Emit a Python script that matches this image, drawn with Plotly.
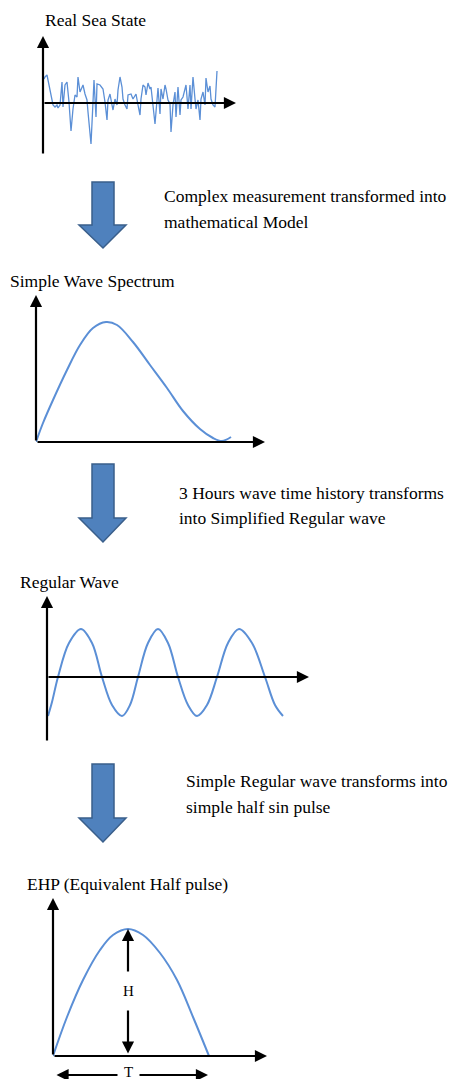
import plotly.graph_objects as go

W, H = 455, 1079

# Real sea state: irregular elevation record (time, elevation)
sea_t = [1, 2, 4, 7, 10, 12, 14, 15, 17, 19, 20, 22, 24, 26, 28, 30, 32, 34, 35, 37,
         39, 40, 42, 44, 45, 48, 50, 51, 53, 54, 57, 60, 62, 64, 65, 67, 69, 70, 72, 74,
         75, 77, 79, 80, 82, 84, 85, 88, 90, 92, 93, 95, 97, 98, 100, 102, 103, 105, 107, 108,
         110, 112, 113, 115, 117, 118, 120, 122, 123, 125, 127, 128, 130, 132, 133, 135, 137, 138, 140, 142,
         143, 145, 147, 148, 150, 152, 153, 155, 157, 158, 160, 162, 163, 165, 167, 168, 170, 172, 174]
sea_v = [24, 26, 28, 12, -2, -4, -2, -5, -2, 21, -4, 18, 21, 1, -28, -6, 8, 6, 26, 11,
         16, 18, 9, 3, -9, -41, 1, 23, -14, 19, 18, 14, 1, -17, 3, 9, -2, -7, 4, -2,
         13, 26, 16, 4, -2, -6, 8, 9, 4, 8, 9, -2, -12, 4, 18, 16, 8, 20, 14, 16,
         -2, -21, -9, 15, -11, 14, 4, 18, 14, 3, -1, -29, -2, 11, -14, 16, -12, 3, 6, 14,
         18, -6, 18, -6, 26, 4, -6, 3, -17, 4, 11, -2, 25, 11, 17, 4, -2, -4, 32]

# Simple wave spectrum (frequency, spectral density)
spec_f = [0, 7, 17, 31, 44, 57, 70, 81, 97, 114, 131, 147, 164, 177, 186, 195]
spec_s = [0, 19, 42, 72, 97, 114, 120, 117, 100, 77, 54, 31, 13, 4, 1, 5]

# Regular wave (time, elevation)
reg_t = [1, 5, 11, 22, 34, 45, 55, 65, 75, 83, 91, 101, 111, 121, 131, 141, 150, 160, 170,
         181, 192, 205, 218, 228, 236]
reg_h = [-39, -25, 0, 34, 48, 34, 0, -28, -39, -28, 0, 34, 48, 34, 0, -28, -39, -28, 0,
         34, 48, 34, 0, -28, -39]

# Equivalent half pulse (time, elevation)
ehp_t = [0, 14, 30, 47, 60, 75, 90, 107, 124, 140, 156]
ehp_h = [0, 39, 76, 106, 121, 127, 121, 103, 76, 39, 0]
ehp_peak_t, ehp_peak_h = 75, 127

curve_color = "#5B8FD6"
font = "Liberation Serif"

# panel boxes in page pixels: (left, right, top, bottom)
panels = [
    (43, 236, 36, 155),
    (36, 265, 295, 442),
    (47, 309, 596, 742),
    (53, 267, 898, 1079),
]
# origin (page pixels) of each panel's data axes
origins = [(43, 103), (36, 442), (47, 677), (53, 1056)]

fig = go.Figure()
series = [(sea_t, sea_v, 1.3), (spec_f, spec_s, 2), (reg_t, reg_h, 2), (ehp_t, ehp_h, 2)]
for i, (xs, ys, lw) in enumerate(series):
    n = "" if i == 0 else str(i + 1)
    fig.add_trace(go.Scatter(
        x=xs, y=ys, mode="lines", xaxis="x" + n, yaxis="y" + n,
        line=dict(color=curve_color, width=lw, shape="linear" if i == 0 else "spline"),
        hoverinfo="skip", showlegend=False,
    ))

layout = {}
annotations = []
arrow_style = dict(text="", showarrow=True, arrowhead=2, arrowsize=1.1, arrowwidth=2.2,
                   arrowcolor="black", standoff=0)
for i, ((l, r, t, b), (ox, oy)) in enumerate(zip(panels, origins)):
    n = "" if i == 0 else str(i + 1)
    layout["xaxis" + n] = dict(domain=[l / W, r / W], range=[l - ox, r - ox], visible=False,
                               anchor="y" + n, fixedrange=True)
    layout["yaxis" + n] = dict(domain=[1 - b / H, 1 - t / H], range=[oy - b, oy - t], visible=False,
                               anchor="x" + n, fixedrange=True)
    xr, yr = "x" + n, "y" + n
    # horizontal axis arrow
    annotations.append(dict(x=r - ox, y=0, ax=0, ay=0, xref=xr, yref=yr, axref=xr, ayref=yr,
                            **arrow_style))
    # vertical axis arrow
    bottom = {0: -52, 1: 0, 2: -65, 3: 0}[i]
    annotations.append(dict(x=0, y=oy - t, ax=0, ay=bottom, xref=xr, yref=yr, axref=xr, ayref=yr,
                            **arrow_style))

# H and T dimension arrows on the half pulse
dbl = dict(arrowside="end+start", startarrowhead=2, startarrowsize=1.1, startstandoff=0)
annotations.append(dict(x=ehp_peak_t, y=ehp_peak_h, ax=ehp_peak_t, ay=1, xref="x4", yref="y4",
                        axref="x4", ayref="y4", **arrow_style, **dbl))
annotations.append(dict(x=ehp_peak_t, y=65, xref="x4", yref="y4", text="H", showarrow=False,
                        font=dict(family=font, size=15, color="black"), bgcolor="white", borderpad=11))
annotations.append(dict(x=ehp_t[-1] - 1, y=-19, ax=2, ay=-19, xref="x4", yref="y4",
                        axref="x4", ayref="y4", **arrow_style, **dbl))
annotations.append(dict(x=ehp_peak_t, y=-16, xref="x4", yref="y4", text="T", showarrow=False,
                        font=dict(family=font, size=15, color="black"), bgcolor="white", borderpad=6))

# overlay axes in page pixels for the titles, notes and block arrows
layout["xaxis5"] = dict(domain=[0, 1], range=[0, W], visible=False, anchor="y5", fixedrange=True)
layout["yaxis5"] = dict(domain=[0, 1], range=[H, 0], visible=False, anchor="x5", fixedrange=True)

texts = [
    ("Real Sea State", 43, 20),
    ("Simple Wave Spectrum", 8, 281),
    ("Regular Wave", 18, 582),
    ("EHP (Equivalent Half pulse)", 25, 884),
    ("Complex measurement transformed into", 162, 196),
    ("mathematical Model", 162, 222),
    ("3 Hours wave time history transforms", 177, 493),
    ("into Simplified Regular wave", 177, 518),
    ("Simple Regular wave transforms into", 184, 781),
    ("simple half sin pulse", 184, 807),
]
for txt, x, y in texts:
    annotations.append(dict(x=x, y=y, xref="x5", yref="y5", text=txt, showarrow=False,
                            xanchor="left", yanchor="middle",
                            font=dict(family=font, size=17.5, color="black")))

shapes = []
for top, neck, tip in [(182, 225, 248), (464, 518, 542), (764, 818, 842)]:
    path = (f"M 92 {top} L 114 {top} L 114 {neck} L 126 {neck} L 103 {tip} "
            f"L 79 {neck} L 92 {neck} Z")
    shapes.append(dict(type="path", path=path, xref="x5", yref="y5",
                       fillcolor="#4F81BD", line=dict(color="#3A5F8B", width=1.5)))

fig.update_layout(
    width=W, height=H,
    margin=dict(l=0, r=0, t=0, b=0),
    paper_bgcolor="white", plot_bgcolor="rgba(0,0,0,0)",
    showlegend=False,
    annotations=annotations,
    shapes=shapes,
    **layout,
)

# page body has a default margin; drop it so the figure fills the window
fig.write_html("out.html", config={"displayModeBar": False},
               post_script="document.body.style.margin='0px';")
